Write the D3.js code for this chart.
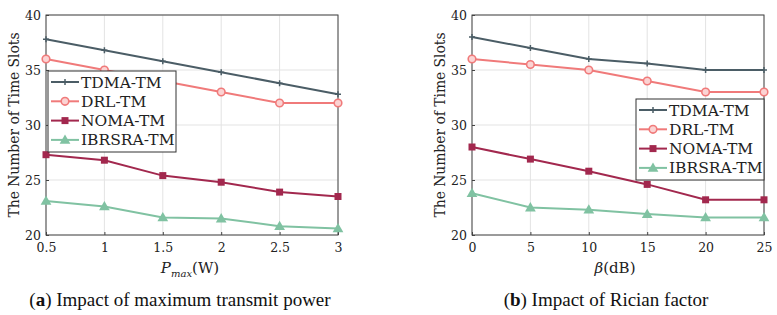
<!DOCTYPE html>
<html>
<head>
<meta charset="utf-8">
<script src="https://d3js.org/d3.v7.min.js"></script>
<style>
  body { margin: 0; background: #fff; }
  .grid line { stroke: #e3e3e3; stroke-width: 1; }
  .line { fill: none; stroke-width: 2; }
</style>
</head>
<body>
<script>
// data
var seriesNames = ["TDMA-TM", "DRL-TM", "NOMA-TM", "IBRSRA-TM"];
var colors = ["#4b5d66", "#f07a7a", "#a2284e", "#80c2a2"];
var markers = ["plus", "circle", "square", "triangle"];

var pmax = [0.5, 1, 1.5, 2, 2.5, 3];
var tdmaA   = [37.8, 36.8, 35.8, 34.8, 33.8, 32.8];
var drlA    = [36, 35, 34, 33, 32, 32];
var nomaA   = [27.3, 26.8, 25.4, 24.8, 23.9, 23.5];
var ibrsraA = [23.1, 22.6, 21.6, 21.5, 20.8, 20.6];

var beta = [0, 5, 10, 15, 20, 25];
var tdmaB   = [38, 37, 36, 35.6, 35, 35];
var drlB    = [36, 35.5, 35, 34, 33, 33];
var nomaB   = [28, 26.9, 25.8, 24.6, 23.2, 23.2];
var ibrsraB = [23.8, 22.5, 22.3, 21.9, 21.6, 21.6];

var yTicks = [20, 25, 30, 35, 40];
var xTicksA = [0.5, 1, 1.5, 2, 2.5, 3];
var xTicksB = [0, 5, 10, 15, 20, 25];

var SERIF = "DejaVu Serif";
var CAP = "Liberation Serif";

var svg = d3.select("body").append("svg")
  .attr("width", 777).attr("height", 315)
  .attr("font-family", SERIF);

function panel(opt) {
  var g = svg.append("g").attr("transform", "translate(" + opt.left + ",15)");
  var w = opt.width, h = 220;
  var x = d3.scaleLinear().domain(opt.xDomain).range([0, w]);
  var y = d3.scaleLinear().domain([20, 40]).range([h, 0]);

  // grid
  var grid = g.append("g").attr("class", "grid");
  grid.selectAll(".gx").data(opt.xTicks).enter().append("line")
    .attr("x1", function(d) { return x(d); }).attr("x2", function(d) { return x(d); })
    .attr("y1", 0).attr("y2", h);
  grid.selectAll(".gy").data(yTicks).enter().append("line")
    .attr("x1", 0).attr("x2", w)
    .attr("y1", function(d) { return y(d); }).attr("y2", function(d) { return y(d); });

  // axes
  var xAxis = g.append("g").attr("transform", "translate(0," + h + ")")
    .call(d3.axisBottom(x).tickValues(opt.xTicks).tickFormat(d3.format("~g"))
      .tickSizeInner(-3).tickSizeOuter(0).tickPadding(8));
  var yAxis = g.append("g")
    .call(d3.axisLeft(y).tickValues(yTicks).tickSizeInner(-3).tickSizeOuter(0).tickPadding(5));
  [xAxis, yAxis].forEach(function(a) {
    a.attr("font-family", SERIF).attr("font-size", 12.5);
    a.selectAll("text").attr("fill", "#222");
    a.selectAll("line").attr("stroke", "#444");
    a.select(".domain").remove();
  });
  g.append("rect").attr("width", w).attr("height", h)
    .attr("fill", "none").attr("stroke", "#444").attr("stroke-width", 1);

  // lines
  opt.series.forEach(function(vals, i) {
    var pts = opt.xs.map(function(xv, j) { return [xv, vals[j]]; });
    g.append("path").datum(pts).attr("class", "line")
      .attr("stroke", colors[i])
      .attr("d", d3.line().x(function(d) { return x(d[0]); }).y(function(d) { return y(d[1]); }));
    pts.forEach(function(p) { drawMarker(g, markers[i], x(p[0]), y(p[1]), colors[i]); });
  });

  // y title
  g.append("text")
    .attr("transform", "translate(" + (opt.yTitleX) + "," + (h / 2) + ") rotate(-90)")
    .attr("text-anchor", "middle").attr("dominant-baseline", "central")
    .attr("font-family", SERIF).attr("font-size", 14).attr("fill", "#222")
    .attr("textLength", 185).attr("lengthAdjust", "spacingAndGlyphs")
    .text("The Number of Time Slots");

  // legend
  var lg = g.append("g").attr("transform", "translate(" + opt.legX + "," + opt.legY + ")");
  lg.append("rect").attr("width", opt.legW).attr("height", 81)
    .attr("fill", "#fff").attr("stroke", "#333").attr("stroke-width", 1);
  seriesNames.forEach(function(name, i) {
    var cy = 11 + i * 19.3;
    lg.append("line").attr("x1", 3).attr("x2", 31).attr("y1", cy).attr("y2", cy)
      .attr("stroke", colors[i]).attr("stroke-width", 2);
    drawMarker(lg, markers[i], 17, cy, colors[i]);
    lg.append("text").attr("x", 33).attr("y", cy).attr("dy", "0.36em")
      .attr("font-family", SERIF).attr("font-size", 15.5).attr("fill", "#222").text(name);
  });

  return g;
}

function drawMarker(g, type, cx, cy, c) {
  if (type === "plus") {
    g.append("path").attr("d", "M" + (cx - 3) + "," + cy + "h6M" + cx + "," + (cy - 3) + "v6")
      .attr("stroke", c).attr("stroke-width", 1.5);
  } else if (type === "circle") {
    g.append("circle").attr("cx", cx).attr("cy", cy).attr("r", 3.8)
      .attr("fill", "#fbd3d3").attr("stroke", c).attr("stroke-width", 1.6);
  } else if (type === "square") {
    g.append("rect").attr("x", cx - 3.5).attr("y", cy - 3.5).attr("width", 7).attr("height", 7)
      .attr("fill", c);
  } else {
    g.append("path").attr("d", d3.symbol().type(d3.symbolTriangle).size(50)())
      .attr("transform", "translate(" + cx + "," + (cy + 0.8) + ")").attr("fill", c);
  }
}

var gA = panel({
  left: 46, width: 292, xDomain: [0.5, 3], xTicks: xTicksA, xs: pmax,
  series: [tdmaA, drlA, nomaA, ibrsraA],
  yTitleX: -32, legX: 2, legY: 56, legW: 128
});
var gB = panel({
  left: 472, width: 292, xDomain: [0, 25], xTicks: xTicksB, xs: beta,
  series: [tdmaB, drlB, nomaB, ibrsraB],
  yTitleX: -32, legX: 164, legY: 84, legW: 128
});

// x labels
var xl = svg.append("text").attr("x", 190).attr("y", 273).attr("text-anchor", "middle")
  .attr("font-size", 15).attr("fill", "#222");
xl.append("tspan").attr("font-style", "italic").text("P");
xl.append("tspan").attr("dy", 4).attr("font-size", 10).attr("font-style", "italic").text("max");
xl.append("tspan").attr("dy", -4).text("(W)");

var xr = svg.append("text").attr("x", 615).attr("y", 273).attr("text-anchor", "middle")
  .attr("font-size", 15).attr("fill", "#222");
xr.append("tspan").attr("font-style", "italic").text("β");
xr.append("tspan").text("(dB)");

// captions
var ca = svg.append("text").attr("x", 180).attr("y", 306).attr("text-anchor", "middle")
  .attr("font-size", 19).attr("font-family", CAP).attr("fill", "#111");
ca.append("tspan").text("(");
ca.append("tspan").attr("font-weight", "bold").text("a");
ca.append("tspan").text(") Impact of maximum transmit power");

var cb = svg.append("text").attr("x", 606).attr("y", 306).attr("text-anchor", "middle")
  .attr("font-size", 19).attr("font-family", CAP).attr("fill", "#111");
cb.append("tspan").text("(");
cb.append("tspan").attr("font-weight", "bold").text("b");
cb.append("tspan").text(") Impact of Rician factor");
</script>
</body>
</html>
